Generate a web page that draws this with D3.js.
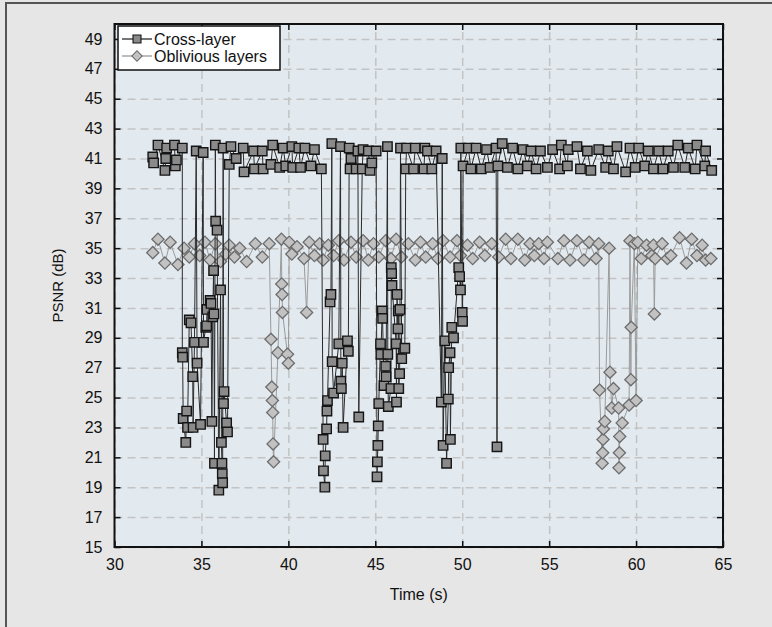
<!DOCTYPE html>
<html>
<head>
<meta charset="utf-8">
<script src="https://cdn.jsdelivr.net/npm/d3@7"></script>
<style>
body{margin:0;background:#fff}
svg{display:block;font-family:"Liberation Sans",Arial,sans-serif}
</style>
</head>
<body>
<script>
// data
const crossTime=[32.2,32.25,32.5,32.9,32.95,33.0,33.45,33.5,33.56,33.9,
 33.9,33.92,33.95,34.1,34.15,34.2,34.3,34.4,34.5,34.52,34.6,34.7,34.75,34.95,35.1,35.12,35.25,35.3,35.32,35.5,35.55,35.6,35.65,35.7,35.72,35.75,35.8,35.82,35.9,36.0,36.1,36.15,36.18,36.2,36.22,36.25,36.27,36.3,36.45,36.5,
 36.6,36.7,37.0,37.4,37.45,38.0,38.05,38.5,38.55,39.0,39.1,39.5,39.7,39.85,40.2,40.25,40.6,40.7,40.95,41.3,41.5,41.9,
 42.0,42.02,42.1,42.12,42.2,42.22,42.25,42.4,42.45,42.5,42.52,42.6,42.9,43.0,43.02,43.05,43.1,43.15,43.4,43.45,43.5,43.55,43.6,43.9,44.0,44.05,44.25,44.3,44.6,44.7,44.8,45.05,
 45.1,45.12,45.15,45.17,45.2,45.3,45.32,45.4,45.42,45.5,45.6,45.62,45.7,45.72,45.75,45.9,45.92,45.94,45.96,46.2,46.22,46.25,46.3,46.32,46.35,46.4,46.42,46.45,46.52,46.7,
 46.75,46.8,47.2,47.3,47.8,47.85,48.0,48.25,48.5,
 48.8,48.85,48.9,49.0,49.1,49.2,49.22,49.3,49.32,49.4,49.5,49.8,49.85,49.9,49.92,50.0,50.02,50.05,
 50.35,50.5,50.8,51.1,51.4,51.6,51.95,52.0,52.05,52.3,
 52.6,52.9,53.2,53.5,53.75,53.95,54.25,54.5,54.9,55.2,55.6,55.7,56.05,56.1,56.6,56.8,57.2,57.4,57.85,58.25,58.4,58.7,58.9,59.4,59.65,59.95,60.15,60.5,60.7,61.0,61.3,61.55,61.85,62.15,62.4,62.8,63.0,63.4,63.5,63.95,64.0,64.35];
const crossPsnr=[41.1,40.7,41.9,40.2,41.0,41.7,41.9,40.5,40.9,41.7,
 28.0,27.7,23.6,22.0,24.1,23.0,30.2,30.0,26.4,23.0,28.7,41.5,27.3,23.2,41.4,28.7,29.7,29.8,30.9,31.5,31.3,23.4,30.4,33.5,30.6,20.6,41.9,36.8,36.2,18.8,32.2,22.0,20.6,19.9,19.3,41.7,24.6,25.4,23.3,22.7,
 40.6,41.8,41.0,41.7,40.1,41.5,40.3,41.5,40.3,40.6,41.9,40.4,41.7,40.5,41.8,40.4,41.7,40.4,41.7,40.5,41.6,40.3,
 22.2,20.1,19.0,21.1,22.9,24.1,24.8,31.4,31.9,42.0,27.4,25.3,28.6,41.8,26.1,25.6,27.3,23.0,28.8,28.1,41.7,40.3,41.0,40.3,41.5,23.7,40.3,41.6,41.5,40.2,40.7,41.5,
 19.7,20.7,21.8,23.1,24.6,28.6,27.9,30.8,30.3,25.8,27.1,26.4,41.8,27.9,24.4,25.6,33.7,33.3,32.5,28.6,24.7,31.9,29.6,30.8,25.6,26.6,30.9,41.7,27.6,28.3,
 40.3,41.7,40.3,41.7,40.3,41.7,41.5,40.3,41.5,
 24.7,41.0,21.8,28.8,20.6,24.9,27.0,28.0,22.2,29.7,29.0,33.7,33.1,32.2,41.7,30.7,30.1,40.5,
 41.7,40.3,41.7,40.3,41.6,40.4,41.7,21.7,40.5,42.0,
 40.4,41.7,40.3,41.6,40.5,41.5,40.3,41.5,40.4,41.6,40.3,41.9,40.5,41.6,41.8,40.3,41.5,40.2,41.6,40.4,41.5,40.3,41.8,40.1,41.7,40.4,41.7,40.5,41.5,40.3,41.5,40.3,41.5,40.4,41.9,40.4,41.7,40.3,41.9,40.5,41.5,40.2];

const oblivTime=[32.2,32.5,32.9,33.2,33.65,34.0,34.3,34.6,34.9,35.2,35.5,35.8,36.1,36.4,36.6,36.9,37.2,37.6,38.1,38.5,38.9,
 39.0,39.05,39.08,39.1,39.12,39.15,39.4,39.6,39.62,39.64,39.66,39.95,40.0,
 40.05,40.2,40.5,40.9,41.05,41.2,41.5,41.8,42.0,42.3,42.6,42.9,43.2,43.6,43.9,44.3,44.6,44.9,45.2,45.6,45.9,46.2,46.5,46.9,47.3,47.6,47.9,48.3,48.6,48.9,49.3,49.7,49.9,50.3,50.6,51.0,51.3,51.7,52.1,52.5,52.8,53.2,53.6,53.9,54.15,54.4,54.7,54.9,55.5,55.85,56.2,56.6,57.0,57.3,57.7,57.85,
 57.9,58.05,58.08,58.1,58.12,58.2,58.45,58.5,58.6,58.7,59.0,59.02,59.04,59.06,59.2,59.6,59.65,59.7,59.72,59.9,60.0,
 60.1,60.3,60.6,60.9,61.0,61.05,61.1,61.5,61.8,62.0,62.5,62.9,63.2,63.5,63.8,64.0,64.3];
const oblivPsnr=[34.7,35.6,34.0,35.4,33.9,35.0,34.4,35.3,34.5,35.4,34.2,35.3,34.1,34.6,35.2,34.4,35.0,34.1,35.3,34.4,35.3,
 28.9,25.7,24.8,24.0,21.9,20.7,28.0,35.6,32.6,31.9,30.7,27.9,27.3,
 35.4,34.6,35.1,34.3,30.7,35.4,34.5,35.3,34.2,35.2,34.5,35.5,34.2,35.4,34.4,35.5,34.2,35.3,34.4,35.5,34.3,35.6,34.4,35.3,34.2,35.4,34.4,35.3,34.3,35.5,34.4,35.5,34.5,35.2,34.3,35.4,34.5,35.3,34.4,35.6,34.3,35.6,34.2,35.3,34.5,35.3,34.3,35.4,34.3,35.5,34.2,35.5,34.2,35.4,34.3,35.3,
 25.5,20.6,21.3,22.2,22.9,23.4,35.0,26.7,24.3,25.6,24.3,20.3,21.3,22.4,23.3,24.5,35.5,26.2,29.7,35.3,24.8,
 35.4,34.3,35.2,34.5,35.2,30.6,34.3,35.3,34.3,34.5,35.7,34.0,35.6,34.5,35.2,34.2,34.3];

const xTicks=[30,35,40,45,50,55,60,65];
const yTicks=[15,17,19,21,23,25,27,29,31,33,35,37,39,41,43,45,47,49];
const seriesNames=["Cross-layer","Oblivious layers"];

const w=772,h=627;
const pLeft=114.5,pRight=723,pTop=24,pBottom=547;

const svg=d3.select("body").append("svg").attr("width",w).attr("height",h);

// page background and frame
svg.append("rect").attr("width",w).attr("height",h).attr("fill","#e6e6e6");
svg.append("path").attr("d","M6,"+h+"V3H"+w).attr("fill","none").attr("stroke","#555").attr("stroke-width",2);

const x=d3.scaleLinear().domain([30,65]).range([pLeft,pRight]);
const y=d3.scaleLinear().domain([15,50]).range([pBottom,pTop]);

svg.append("rect").attr("x",pLeft).attr("y",pTop).attr("width",pRight-pLeft).attr("height",pBottom-pTop).attr("fill","#e2eaf0");

// dashed grid
svg.append("g").attr("transform","translate(0,"+pBottom+")")
  .call(d3.axisBottom(x).tickValues(xTicks).tickSize(-(pBottom-pTop)).tickFormat(""))
  .call(g=>g.select(".domain").remove())
  .selectAll("line").attr("stroke","#c3c3c3").attr("stroke-width",1.5).attr("stroke-dasharray","8,5");
svg.append("g").attr("transform","translate("+pLeft+",0)")
  .call(d3.axisLeft(y).tickValues(yTicks).tickSize(-(pRight-pLeft)).tickFormat(""))
  .call(g=>g.select(".domain").remove())
  .selectAll("line").attr("stroke","#c3c3c3").attr("stroke-width",1.5).attr("stroke-dasharray","8,5");

// series
const crossData=d3.zip(crossTime,crossPsnr);
const oblivData=d3.zip(oblivTime,oblivPsnr);
const line=d3.line().x(d=>x(d[0])).y(d=>y(d[1]));

const sqSym=d3.symbol().type(d3.symbolSquare).size(88);
const diaSym=d3.symbol().type(d3.symbolSquare).size(74); // rotated 45deg below

svg.append("path").datum(oblivData).attr("d",line)
  .attr("fill","none").attr("stroke","#9a9a9a").attr("stroke-width",1);
svg.append("g").selectAll("path").data(oblivData).enter().append("path")
  .attr("transform",d=>"translate("+x(d[0])+","+y(d[1])+") rotate(45)")
  .attr("d",diaSym).attr("fill","#c2c2c2").attr("stroke","#6d6d6d").attr("stroke-width",1.3);

svg.append("path").datum(crossData).attr("d",line)
  .attr("fill","none").attr("stroke","#2a2a2a").attr("stroke-width",1);
svg.append("g").selectAll("path").data(crossData).enter().append("path")
  .attr("transform",d=>"translate("+x(d[0])+","+y(d[1])+")")
  .attr("d",sqSym).attr("fill","#8a8a8a").attr("stroke","#151515").attr("stroke-width",1.4);

// axes with inward ticks on all sides
const tickStyle=g=>{
  g.select(".domain").remove();
  g.selectAll("line").attr("stroke","#111").attr("stroke-width",1.5);
  g.selectAll("text").attr("fill","#111").style("font-size","16px");
};
svg.append("g").attr("transform","translate(0,"+pBottom+")")
  .call(d3.axisBottom(x).tickValues(xTicks).tickSize(-6).tickPadding(12)).call(tickStyle);
svg.append("g").attr("transform","translate(0,"+pTop+")")
  .call(d3.axisTop(x).tickValues(xTicks).tickSize(-6).tickFormat("")).call(tickStyle);
svg.append("g").attr("transform","translate("+pLeft+",0)")
  .call(d3.axisLeft(y).tickValues(yTicks).tickSize(-6).tickPadding(12)).call(tickStyle);
svg.append("g").attr("transform","translate("+pRight+",0)")
  .call(d3.axisRight(y).tickValues(yTicks).tickSize(-6).tickFormat("")).call(tickStyle);

svg.append("rect").attr("x",pLeft).attr("y",pTop).attr("width",pRight-pLeft).attr("height",pBottom-pTop)
  .attr("fill","none").attr("stroke","#111").attr("stroke-width",2);

// axis titles
svg.append("text").attr("x",(pLeft+pRight)/2).attr("y",600).attr("text-anchor","middle")
  .style("font-size","16px").attr("fill","#111").text("Time (s)");
svg.append("text").attr("transform","translate(63,"+((pTop+pBottom)/2)+") rotate(-90)")
  .attr("text-anchor","middle").style("font-size","15px").attr("fill","#111").text("PSNR (dB)");

// legend
const lg=svg.append("g").attr("transform","translate(118,26)");
lg.append("rect").attr("width",162).attr("height",44).attr("fill","#fff").attr("stroke","#111").attr("stroke-width",1.5);
const entries=[
  {name:seriesNames[0],sym:sqSym,rot:0,fill:"#8a8a8a",stroke:"#151515",line:"#2a2a2a"},
  {name:seriesNames[1],sym:diaSym,rot:45,fill:"#c2c2c2",stroke:"#6d6d6d",line:"#9a9a9a"}
];
const le=lg.selectAll("g").data(entries).enter().append("g")
  .attr("transform",(d,i)=>"translate(0,"+(13+i*17)+")");
le.append("line").attr("x1",4).attr("x2",34).attr("stroke",d=>d.line).attr("stroke-width",1.3);
le.append("path").attr("transform",d=>"translate(19,0) rotate("+d.rot+") scale(0.85)").attr("d",d=>d.sym())
  .attr("fill",d=>d.fill).attr("stroke",d=>d.stroke).attr("stroke-width",1.3);
le.append("text").attr("x",36).attr("dy","0.35em").style("font-size","16px").attr("fill","#111").text(d=>d.name);
</script>
</body>
</html>
